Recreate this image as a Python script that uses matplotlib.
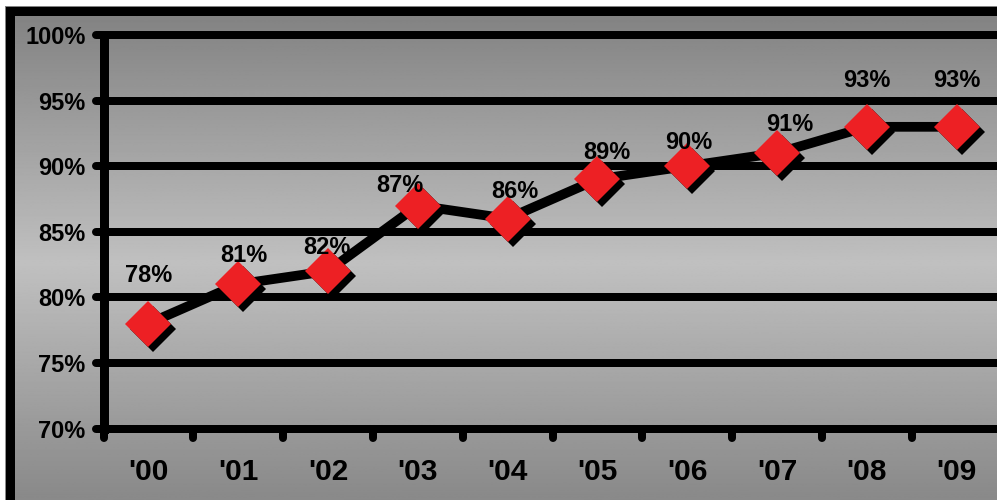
import numpy as np
import matplotlib
matplotlib.use('Agg')
import matplotlib.pyplot as plt
import matplotlib.transforms as mtransforms
from matplotlib.patches import Rectangle

plt.rcParams['font.family'] = ['Liberation Sans', 'DejaVu Sans']

# ===== data =====
years = ["'00", "'01", "'02", "'03", "'04", "'05", "'06", "'07", "'08", "'09"]
values = [78, 81, 82, 87, 86, 89, 90, 91, 93, 93]
y_ticks = [70, 75, 80, 85, 90, 95, 100]
y_labels = ['70%', '75%', '80%', '85%', '90%', '95%', '100%']

# label offsets (pixels, relative to the marker centre)
label_dx = [0, 6, -1, -18, 7, 9, 2, 13, 0, 0]
label_dy = [42, 22, 17, 14, 21, 20, 17, 22, 40, 40]

W, H = 997, 500
fig = plt.figure(figsize=(W / 100, H / 100), dpi=100, facecolor='white')

# ----- gray gradient background inside the frame -----
bg = fig.add_axes([0, 0, 1, 1], zorder=0)
rows = np.arange(H)
shade = np.interp(rows, [0, 15, 260, 493, 500], [0x82, 0x84, 0xC0, 0x8A, 0x8A]) / 255.0
grad = np.repeat(shade[:, None], 2, axis=1)
bg.imshow(grad, cmap='gray', vmin=0, vmax=1, aspect='auto',
          extent=[5 / W, 1, 0, 1 - 6 / H], origin='upper')
bg.set_xlim(0, 1)
bg.set_ylim(0, 1)
bg.axis('off')
# black frame (right side falls outside the picture)
bg.add_patch(Rectangle((9.5 / W, -2.5 / H), 1.2, (H - 10.5 + 2.5) / H,
                       fill=False, ec='black', lw=9 * 0.72))

# ----- main axes -----
ax = fig.add_axes([103.5 / W, (H - 428.5) / H, 898 / W, 393.5 / H], zorder=1)
ax.set_facecolor('none')
n = len(years)
x = np.arange(n) + 0.5
ax.set_xlim(0, n)
ax.set_ylim(70, 100)

for s in ['top', 'right', 'bottom']:
    ax.spines[s].set_visible(False)
ax.spines['left'].set_linewidth(9 * 0.72)
ax.spines['left'].set_color('black')

for v in y_ticks:
    ax.axhline(v, color='black', lw=8 * 0.72, solid_capstyle='butt', clip_on=False, zorder=1)

# round tick stubs
ytr = mtransforms.blended_transform_factory(ax.transAxes, ax.transData)
for v in y_ticks:
    ax.plot([-8 / 898, 0], [v, v], color='black', lw=8 * 0.72,
            solid_capstyle='round', transform=ytr, clip_on=False, zorder=1)
xtr = mtransforms.blended_transform_factory(ax.transData, ax.transAxes)
for b in range(n + 1):
    ax.plot([b, b], [0, -9 / 393.5], color='black', lw=8 * 0.72,
            solid_capstyle='round', transform=xtr, clip_on=False, zorder=1)

ax.set_yticks(y_ticks)
ax.set_yticklabels(y_labels)
ax.set_xticks(x)
ax.set_xticklabels(years)
ax.tick_params(axis='y', length=0, pad=13, labelsize=17)
ax.tick_params(axis='x', length=0, pad=21, labelsize=21.5)
for t in ax.get_xticklabels() + ax.get_yticklabels():
    t.set_fontweight('bold')

# line + shadowed diamonds
ax.plot(x, values, color='black', lw=7, zorder=3, clip_on=False)
shadow = mtransforms.offset_copy(ax.transData, fig=fig, x=5, y=-5, units='dots')
ax.plot(x, values, ls='none', marker='D', ms=23, color='black', mew=0,
        transform=shadow, zorder=4, clip_on=False)
ax.plot(x, values, ls='none', marker='D', ms=23, color='#ED2024', mew=0,
        zorder=5, clip_on=False)

for xi, v, dx, dy in zip(x, values, label_dx, label_dy):
    ax.annotate(f'{v}%', (xi, v), xytext=(dx, dy), textcoords='offset pixels',
                ha='center', va='baseline', fontsize=17, fontweight='bold',
                color='black', zorder=6)

fig.savefig('out.png', dpi=100)
